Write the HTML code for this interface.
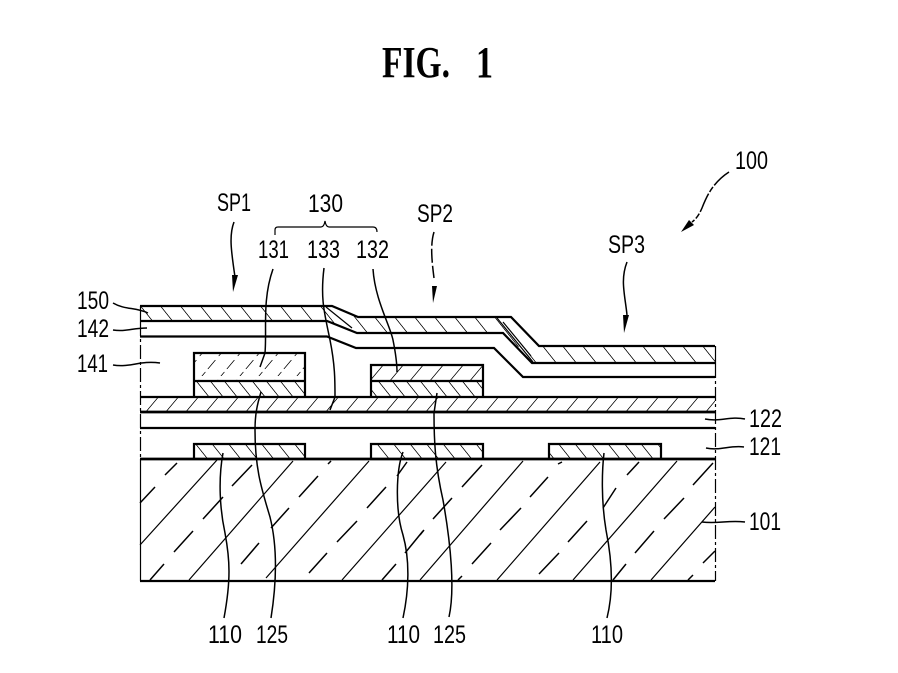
<!DOCTYPE html>
<html><head><meta charset="utf-8"><style>
html,body{margin:0;padding:0;background:#fff}
svg{display:block}
text{font-family:"Liberation Sans",sans-serif;font-size:25px;fill:#000}
.l{fill:none;stroke:#000;stroke-width:2.2}
.t{fill:none;stroke:#000;stroke-width:1.2}
.m{fill:none;stroke:#000;stroke-width:1.5}
</style></head><body>
<svg width="898" height="673" viewBox="0 0 898 673" xmlns="http://www.w3.org/2000/svg">
<defs>
<pattern id="a1" patternUnits="userSpaceOnUse" x="15.2" width="20" height="100" patternTransform="skewX(38.66)"><line x1="0" y1="0" x2="0" y2="100" stroke="#000" stroke-width="2"/></pattern>
<pattern id="a2" patternUnits="userSpaceOnUse" x="0.6" width="20" height="100" patternTransform="skewX(38.66)"><line x1="0" y1="0" x2="0" y2="100" stroke="#000" stroke-width="2"/></pattern>
<pattern id="a3" patternUnits="userSpaceOnUse" x="5.4" width="20" height="100" patternTransform="skewX(38.66)"><line x1="0" y1="0" x2="0" y2="100" stroke="#000" stroke-width="2"/></pattern>
<pattern id="f" patternUnits="userSpaceOnUse" x="11" width="20" height="100" patternTransform="skewX(-40)"><line x1="0" y1="0" x2="0" y2="100" stroke="#000" stroke-width="2"/></pattern>
<pattern id="d" patternUnits="userSpaceOnUse" x="5" width="16.5" height="100" patternTransform="skewX(38.66)"><line x1="0" y1="0" x2="0" y2="100" stroke="#000" stroke-width="2"/></pattern>
<pattern id="e" patternUnits="userSpaceOnUse" x="3" width="14" height="100" patternTransform="skewX(38.66)"><line x1="0" y1="0" x2="0" y2="100" stroke="#000" stroke-width="2"/></pattern>
<pattern id="g" patternUnits="userSpaceOnUse" x="4" width="19" height="100" patternTransform="skewX(-40)"><line x1="0" y1="0" x2="0" y2="100" stroke="#000" stroke-width="2" stroke-dasharray="9 3 4 4"/></pattern>
<pattern id="h" patternUnits="userSpaceOnUse" x="9" width="20" height="100" patternTransform="skewX(-40)"><line x1="0" y1="0" x2="0" y2="100" stroke="#000" stroke-width="2"/></pattern>
</defs>

<!-- title -->
<text x="382" y="77" textLength="68" lengthAdjust="spacingAndGlyphs" style="font-family:'Liberation Serif',serif;font-weight:bold;font-size:44px">FIG.</text>
<text x="476" y="77" textLength="17" lengthAdjust="spacingAndGlyphs" style="font-family:'Liberation Serif',serif;font-weight:bold;font-size:44px">1</text>

<!-- hatch fills -->
<polygon points="140,306 332,306 345,311 345,327 327,321 140,321" fill="url(#a1)"/>
<polygon points="345,311 358,317 511,317 525,331.5 518,348 503,333 357,333 345,327" fill="url(#a2)"/>
<polygon points="525,331.5 539,346 715,346 715,363 532,363 518,348" fill="url(#a3)"/>
<rect x="140" y="397" width="575" height="15" fill="url(#f)"/>
<rect x="194" y="353" width="111" height="28" fill="url(#g)"/>
<rect x="194" y="381" width="111" height="16" fill="url(#e)"/>
<rect x="371" y="365" width="112" height="16" fill="url(#h)"/>
<rect x="371" y="381" width="112" height="16" fill="url(#e)"/>
<rect x="194" y="444" width="111" height="15" fill="url(#d)"/>
<rect x="371" y="444" width="112" height="15" fill="url(#d)"/>
<rect x="549" y="444" width="112" height="15" fill="url(#d)"/>

<!-- slope lines -->
<path class="t" d="M497,318L533,362M503,322L531,356M326,307L352,328"/>

<!-- substrate hatching -->
<path class="t" d="M140,545L217,460M189,580L293,461M266,578L369,461M342,580L446,462M420,580L523,461M497,580L600,462M573,580L677,461M651,580L715,507"/>
<path class="m" d="M165,475L177,463M140,503L155,487M232,486L252,465M203,519L223,497M174,552L193,531M150,580L164,564M241,564L259,543M271,528L289,508M299,497L318,476M328,464L331,461M367,508L386,487M337,542L357,521M309,573L327,553M382,580L396,564M397,476L407,462M405,553L423,531M462,487L482,465M433,519L452,498M472,564L491,543M458,580L462,576M530,497L548,477M500,530L521,508M539,574L559,553M558,464L562,462M627,475L639,462M603,508L616,488M568,542L587,521M635,553L654,531M613,580L626,564M693,485L713,463M664,519L684,498M703,563L715,551M688,580L693,575M420,535L424,530"/>

<!-- side edges -->
<path class="t" d="M140.5,306V322M715.5,346V364"/>
<path class="t" stroke-dasharray="14 3 3 3" d="M140.5,322V459"/>
<path class="t" d="M140.5,459V581"/>
<path class="t" stroke-dasharray="14 3 3 3" d="M715.5,364V581"/>

<!-- layers -->
<path class="l" d="M140,306H332L358,317H511L539,346H715"/>
<path class="l" d="M140,321H327L357,333H503L532,363H715"/>
<path class="l" d="M140,336.5H327L356,348H494L523,377H715"/>
<path class="l" d="M140,397H715"/>
<path class="l" style="stroke-width:2.8" d="M140,412H715"/>
<path class="l" d="M140,428H715"/>
<path class="l" style="stroke-width:2.8" d="M140,459H715"/>
<path class="l" d="M140,581H715"/>

<!-- boxes -->
<path class="l" d="M194,397V353H305V397M194,381H305"/>
<path class="l" d="M371,397V365H483V397M371,381H483"/>
<path class="l" d="M194,459V444H305V459"/>
<path class="l" d="M371,459V444H483V459"/>
<path class="l" d="M549,459V444H661V459"/>

<!-- brace -->
<path class="t" d="M275,235V230Q275,227 278,227H321Q324,227 325,221Q326,227 329,227H373Q377,227 377,232"/>

<!-- leaders -->
<g fill="none" stroke="#000" stroke-width="1.5">
<path d="M113,303C125,310 135,307 148,313"/>
<path d="M113,330C125,332 133,328 147,328"/>
<path d="M113,365C130,368 140,360 160,363"/>
<path d="M705,419C720,422 730,416 745,419"/>
<path d="M706,448C720,451 730,445 744,447"/>
<path d="M702,522C718,524 728,520 745,522"/>
<path d="M273,269C262,300 267,330 265,353L260,367"/>
<path d="M324,268C320,300 325,315 330,340C335,365 335,380 335,397L330,410"/>
<path d="M373,269C375,300 390,325 393,340C396,355 397,365 397,372"/>
<path d="M224,618C231,580 230,560 225,533C220,510 218,480 223,453"/>
<path d="M271,618C277,580 277,545 270,517C262,490 255,470 255,430C255,415 257,405 261,392"/>
<path d="M403,618C409,590 410,560 403,535C395,510 396,470 403,452"/>
<path d="M449,617C455,590 451,545 443,500C435,465 434,440 434,413L437,393"/>
<path d="M607,618C614,590 612,560 606,530C601,500 602,470 604,453"/>
<path d="M234,222C229,235 231,250 235,277"/>
<path d="M434,232C430,245 432,262 434,278" stroke-dasharray="14 3"/>
<path d="M627,262C620,280 625,295 627,315"/>
<path d="M729,172C712,183 706,198 702,208C699,215 696,219 692,222" stroke-dasharray="20 2 6 2"/>
</g>

<!-- arrowheads -->
<polygon points="232,275 238,275 233,292"/>
<polygon points="432,286 437,286 433,303"/>
<polygon points="623,315 629,315 624,333"/>
<polygon points="689,220 694,225 681,232"/>

<!-- labels -->
<text x="217" y="211" textLength="34" lengthAdjust="spacingAndGlyphs">SP1</text>
<text x="308" y="212" textLength="35" lengthAdjust="spacingAndGlyphs">130</text>
<text x="258" y="258" textLength="31" lengthAdjust="spacingAndGlyphs">131</text>
<text x="307" y="258" textLength="33" lengthAdjust="spacingAndGlyphs">133</text>
<text x="356" y="258" textLength="33" lengthAdjust="spacingAndGlyphs">132</text>
<text x="417" y="222" textLength="36" lengthAdjust="spacingAndGlyphs">SP2</text>
<text x="608" y="253" textLength="37" lengthAdjust="spacingAndGlyphs">SP3</text>
<text x="735" y="169" textLength="33" lengthAdjust="spacingAndGlyphs">100</text>
<text x="77" y="309" textLength="32" lengthAdjust="spacingAndGlyphs">150</text>
<text x="77" y="337" textLength="32" lengthAdjust="spacingAndGlyphs">142</text>
<text x="77" y="372" textLength="31" lengthAdjust="spacingAndGlyphs">141</text>
<text x="749" y="427" textLength="33" lengthAdjust="spacingAndGlyphs">122</text>
<text x="749" y="455" textLength="32" lengthAdjust="spacingAndGlyphs">121</text>
<text x="749" y="530" textLength="32" lengthAdjust="spacingAndGlyphs">101</text>
<text x="208" y="643" textLength="34" lengthAdjust="spacingAndGlyphs">110</text>
<text x="256" y="643" textLength="32" lengthAdjust="spacingAndGlyphs">125</text>
<text x="387" y="643" textLength="33" lengthAdjust="spacingAndGlyphs">110</text>
<text x="433" y="643" textLength="33" lengthAdjust="spacingAndGlyphs">125</text>
<text x="591" y="643" textLength="32" lengthAdjust="spacingAndGlyphs">110</text>
</svg>
</body></html>
